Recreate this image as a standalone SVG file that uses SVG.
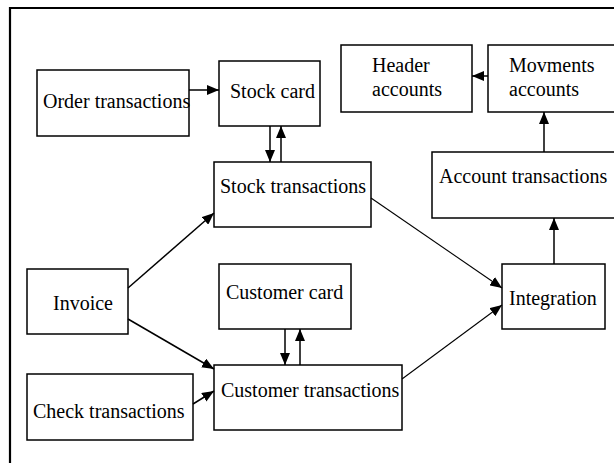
<svg xmlns="http://www.w3.org/2000/svg" width="614" height="463" viewBox="0 0 614 463">
<defs>
<style>
.box{fill:#fff;stroke:#000;stroke-width:1.5}
.t{font-family:"Liberation Serif","Times New Roman",serif;font-size:20px;fill:#000}
.c{stroke:#000;stroke-width:1.5;fill:none;marker-end:url(#ah)}
.c1{stroke:#000;stroke-width:1.1;fill:none;marker-end:url(#ah)}
</style>
<marker id="ah" markerUnits="userSpaceOnUse" markerWidth="12" markerHeight="10" viewBox="0 0 12 10" refX="12" refY="5" orient="auto">
<path d="M0,0 L12,5 L0,10 Z" fill="#000"/>
</marker>
</defs>
<rect width="614" height="463" fill="#fff"/>
<path d="M10,463 V8 H614" fill="none" stroke="#000" stroke-width="2.2"/>
<g id="order"><rect class="box" x="37" y="70" width="152" height="66"/><text class="t" x="43" y="108">Order transactions</text></g>
<g id="stockcard"><rect class="box" x="219" y="61" width="101" height="65"/><text class="t" x="230" y="98">Stock card</text></g>
<g id="stocktrans"><rect class="box" x="214" y="162" width="157" height="65"/><text class="t" x="220" y="193">Stock transactions</text></g>
<g id="header"><rect class="box" x="341" y="45" width="131" height="67"/><text class="t" x="372" y="72">Header</text><text class="t" x="372" y="96">accounts</text></g>
<g id="movments"><rect class="box" x="488" y="45" width="140" height="67"/><text class="t" x="509" y="72">Movments</text><text class="t" x="509" y="96">accounts</text></g>
<g id="accounttrans"><rect class="box" x="432" y="152" width="196" height="66"/><text class="t" x="439" y="183">Account transactions</text></g>
<g id="invoice"><rect class="box" x="27" y="269" width="101" height="65"/><text class="t" x="53" y="310">Invoice</text></g>
<g id="customercard"><rect class="box" x="219" y="264" width="132" height="65"/><text class="t" x="226" y="299">Customer card</text></g>
<g id="integration"><rect class="box" x="502" y="264" width="103" height="65"/><text class="t" x="509" y="305">Integration</text></g>
<g id="customertrans"><rect class="box" x="214" y="365" width="188" height="65"/><text class="t" x="221" y="397">Customer transactions</text></g>
<g id="check"><rect class="box" x="27" y="374" width="166" height="66"/><text class="t" x="33" y="418">Check transactions</text></g>
<g id="connectors">
<line class="c" x1="189" y1="90" x2="219" y2="90"/>
<line class="c" x1="270" y1="126" x2="270" y2="162"/>
<line class="c" x1="281" y1="162" x2="281" y2="126"/>
<line class="c" x1="488" y1="76" x2="472" y2="76"/>
<line class="c" x1="544" y1="152" x2="544" y2="112"/>
<line class="c" x1="554" y1="264" x2="554" y2="218"/>
<line class="c1" x1="371" y1="198" x2="502" y2="288"/>
<line class="c1" x1="402" y1="379" x2="502" y2="305"/>
<line class="c" x1="128" y1="288" x2="214" y2="213"/>
<line class="c" x1="128" y1="319" x2="214" y2="369"/>
<line class="c" x1="193" y1="404" x2="214" y2="391"/>
<line class="c" x1="285" y1="329" x2="285" y2="365"/>
<line class="c" x1="300" y1="365" x2="300" y2="329"/>
</g>
</svg>
